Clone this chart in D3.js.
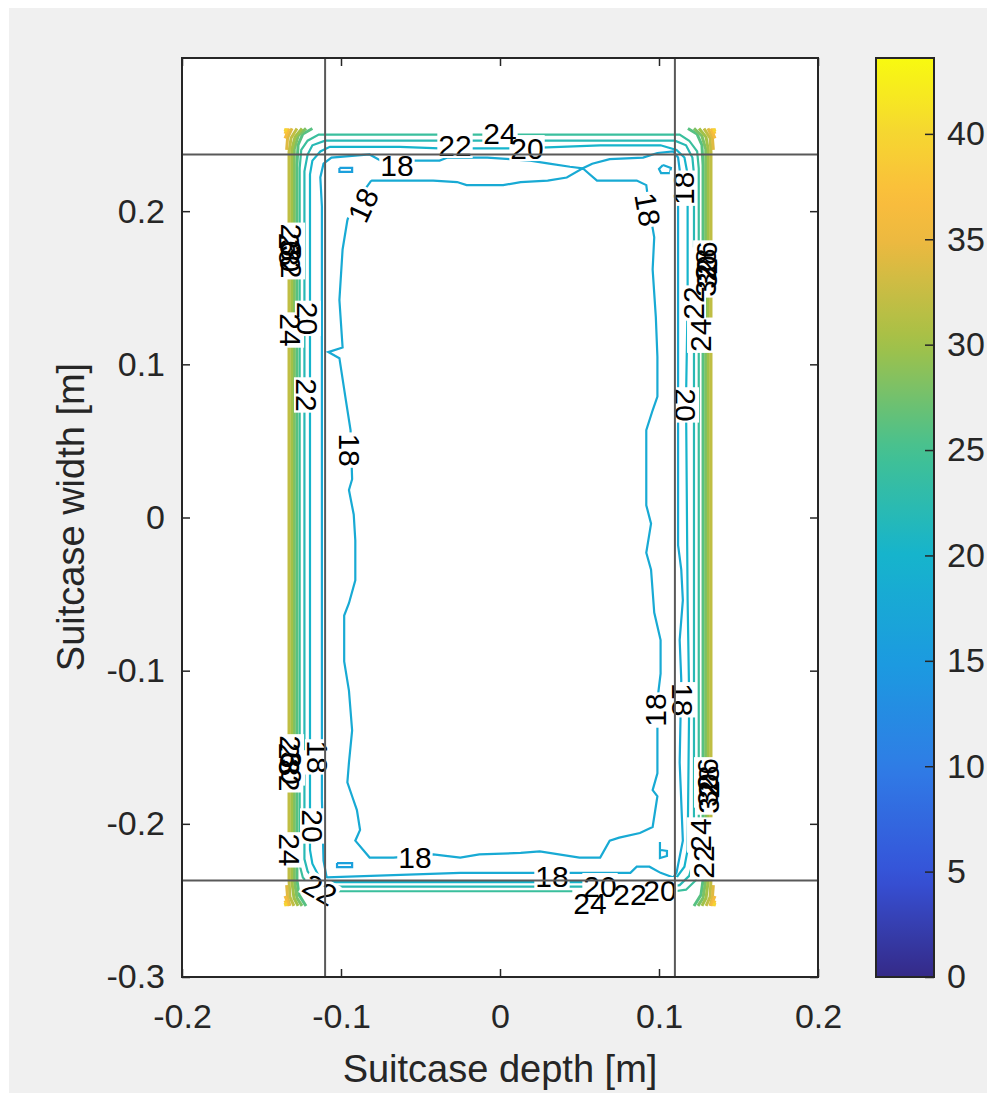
<!DOCTYPE html>
<html lang="en">
<head>
<meta charset="UTF-8">
<title>Suitcase contour</title>
<style>
  body { margin: 0; background: #fff; }
  text { font-family: "Liberation Sans", Arial, sans-serif; }
  .axis text { fill: #262626; font-size: 34px; }
  .axis line { stroke: #262626; stroke-width: 1.5px; }
  .axis path { display: none; }
  .clabel { fill: #000; font-size: 30px; }
</style>
<script src="https://d3js.org/d3.v7.min.js"></script>
</head>
<body>
<div class="canvas"></div>
<script>
// ---- data (data units) ----
const xTicks = [-0.2, -0.1, 0, 0.1, 0.2];
const yTicks = [-0.3, -0.2, -0.1, 0, 0.1, 0.2];
const cTicks = [0, 5, 10, 15, 20, 25, 30, 35, 40];
const cMax = 43.6;
const refX = [-0.110, 0.110];
const refY = [-0.237, 0.237];

// small level-16 loops
const line16a = [[-0.101,0.2282],[-0.093,0.2282],[-0.093,0.2256],[-0.101,0.2256],[-0.101,0.2282]];
const line16b = [[-0.1025,-0.2256],[-0.093,-0.2256],[-0.093,-0.2282],[-0.1025,-0.2282],[-0.1025,-0.2256]];

// level 18
const line18outer = [[-0.112,0.203],[-0.113,0.222],[-0.111,0.231],[-0.106,0.235],[-0.082,0.237],[-0.075,0.233],
  [-0.053,0.233],[-0.038,0.233],[-0.033,0.235],[-0.008,0.235],[0.019,0.233],[0.031,0.231],[0.044,0.229],
  [0.052,0.228],[0.058,0.231],[0.069,0.234],[0.090,0.235],[0.099,0.238],[0.109,0.239],[0.112,0.235],
  [0.113,0.227],[0.112,0.207],[0.112,0.142],[0.112,-0.018],[0.114,-0.034],[0.115,-0.054],[0.114,-0.067],
  [0.113,-0.080],[0.114,-0.106],[0.113,-0.160],[0.115,-0.211],[0.111,-0.232],[0.109,-0.235],[0.101,-0.232],
  [0.094,-0.228],[0.086,-0.228],[0.082,-0.232],[0.013,-0.232],[-0.025,-0.232],[-0.109,-0.235],[-0.111,-0.224],
  [-0.112,-0.184],[-0.112,0.108],[-0.112,0.203]];
const line18inner = [[-0.081,0.220],[-0.050,0.220],[-0.042,0.220],[-0.027,0.219],[-0.021,0.217],[0.002,0.217],
  [0.013,0.219],[0.030,0.220],[0.042,0.222],[0.052,0.228],[0.061,0.220],[0.086,0.220],[0.092,0.217],
  [0.094,0.201],[0.097,0.183],[0.096,0.162],[0.098,0.131],[0.099,0.105],[0.099,0.079],[0.096,0.070],
  [0.092,0.057],[0.092,0.008],[0.095,-0.004],[0.092,-0.023],[0.095,-0.034],[0.097,-0.062],[0.101,-0.080],
  [0.101,-0.102],[0.099,-0.119],[0.099,-0.167],[0.096,-0.178],[0.099,-0.182],[0.096,-0.202],[0.088,-0.206],
  [0.075,-0.209],[0.069,-0.211],[0.063,-0.222],[0.050,-0.222],[0.025,-0.218],[0.013,-0.219],[-0.013,-0.220],
  [-0.025,-0.222],[-0.042,-0.220],[-0.067,-0.222],[-0.082,-0.222],[-0.091,-0.211],[-0.088,-0.204],
  [-0.090,-0.191],[-0.093,-0.182],[-0.096,-0.173],[-0.095,-0.160],[-0.093,-0.139],[-0.095,-0.113],
  [-0.098,-0.094],[-0.098,-0.064],[-0.095,-0.056],[-0.091,-0.041],[-0.091,-0.015],[-0.092,0.002],
  [-0.095,0.018],[-0.093,0.025],[-0.094,0.057],[-0.097,0.077],[-0.101,0.104],[-0.108,0.108],[-0.099,0.111],
  [-0.101,0.142],[-0.099,0.175],[-0.096,0.194],[-0.094,0.201],[-0.081,0.220]];
const line18loopA = [[0.1025,0.2301],[0.100,0.2275],[0.1013,0.2249],[0.1069,0.2249],[0.1075,0.2282],[0.1025,0.2301]];
const line18loopB = [[0.1006,-0.2119],[0.1006,-0.2223],[0.105,-0.221],[0.105,-0.2177],[0.1013,-0.2171]];

// levels 20-24 (closed rings)
const line20 = [[-0.1195,0.175],[-0.1195,0.224],[-0.118,0.233],[-0.113,0.239],[-0.107,0.242],[-0.063,0.242],
  [-0.038,0.241],[0.013,0.241],[0.063,0.243],[0.101,0.243],[0.111,0.240],[0.116,0.235],[0.118,0.224],
  [0.118,0.142],[0.117,0.077],[0.118,-0.054],[0.119,-0.119],[0.118,-0.217],[0.116,-0.228],[0.111,-0.235],
  [0.101,-0.238],[0.000,-0.238],[-0.107,-0.238],[-0.114,-0.234],[-0.118,-0.226],[-0.1195,-0.217],[-0.1195,0.175]];
const line22 = [[-0.123,0.175],[-0.123,0.226],[-0.121,0.237],[-0.118,0.243],[-0.110,0.246],[-0.031,0.246],
  [0.038,0.246],[0.110,0.246],[0.117,0.243],[0.121,0.235],[0.122,0.224],[0.122,-0.223],[0.119,-0.234],
  [0.113,-0.240],[0.107,-0.241],[-0.107,-0.241],[-0.116,-0.238],[-0.121,-0.231],[-0.123,-0.223],[-0.123,0.175]];
const line24 = [[-0.126,0.175],[-0.126,0.228],[-0.125,0.240],[-0.121,0.246],[-0.114,0.250],[0.113,0.250],
  [0.119,0.246],[0.124,0.239],[0.125,0.228],[0.125,-0.227],[0.123,-0.237],[0.117,-0.243],[0.110,-0.244],
  [-0.110,-0.244],[-0.118,-0.242],[-0.124,-0.235],[-0.126,-0.227],[-0.126,0.175]];

// levels 26-32 along the side walls
const left26 = [[-0.118,0.254],[-0.124,0.2504],[-0.127,0.2432],[-0.1277,0.2301],[-0.1277,-0.2367],[-0.1264,-0.2464],[-0.122,-0.2536]];
const left28 = [[-0.122,0.254],[-0.127,0.2491],[-0.1294,0.2406],[-0.1294,-0.2367],[-0.1277,-0.2484],[-0.1245,-0.2536]];
const left30 = [[-0.1245,0.254],[-0.1289,0.2484],[-0.1310,0.2399],[-0.1310,-0.2367],[-0.1296,-0.2484],[-0.127,-0.2536]];
const left32 = [[-0.1277,0.254],[-0.1314,0.2478],[-0.1327,0.2386],[-0.1327,-0.2367],[-0.1321,-0.2478],[-0.1296,-0.2536]];
const right26 = [[0.1182,0.254],[0.1239,0.2504],[0.127,0.2432],[0.1277,0.2301],[0.1277,-0.2367],[0.1264,-0.2464],[0.122,-0.2536]];
const right28 = [[0.122,0.254],[0.127,0.2491],[0.1294,0.2406],[0.1294,-0.2367],[0.1277,-0.2484],[0.1245,-0.2536]];
const right30 = [[0.1252,0.254],[0.1296,0.2484],[0.1310,0.2399],[0.1310,-0.2367],[0.1296,-0.2484],[0.127,-0.2536]];
const right32 = [[0.1283,0.254],[0.1321,0.2478],[0.1327,0.2386],[0.1327,-0.2367],[0.1321,-0.2478],[0.1296,-0.2536]];

// hot corners (34-40)
const corner34 = [[[-0.1308,0.254],[-0.1336,0.2478],[-0.1342,0.240]],[[0.1308,0.254],[0.1336,0.2478],[0.1342,0.240]],
  [[-0.1321,-0.2536],[-0.1336,-0.2478],[-0.1342,-0.240]],[[0.1321,-0.2536],[0.1336,-0.2478],[0.1342,-0.240]]];
const corner36 = [[[-0.1327,0.254],[-0.1352,0.2475]],[[0.1327,0.254],[0.1352,0.2475]],
  [[-0.1327,-0.2536],[-0.1352,-0.2471]],[[0.1327,-0.2536],[0.1352,-0.2471]]];
const corner38 = [[[-0.1339,0.254],[-0.1352,0.2505]],[[0.1339,0.254],[0.1352,0.2505]],
  [[-0.1339,-0.2536],[-0.1352,-0.2501]],[[0.1339,-0.2536],[0.1352,-0.2501]]];
const corner40 = [[[-0.1346,0.254],[-0.1352,0.252]],[[0.1346,0.254],[0.1352,0.252]],
  [[-0.1346,-0.2536],[-0.1352,-0.2516]],[[0.1346,-0.2536],[0.1352,-0.2516]]];

// contour labels: level, x, y, angle
const contourLabels = [
  [18,-0.0648,0.2301,0],[22,-0.0283,0.2432,0],[24,0.0000,0.2510,0],[20,0.0170,0.2412,0],
  [18,-0.0862,0.2040,-65],[18,0.0930,0.2010,80],[18,0.1150,0.2150,-90],
  [26,-0.1308,0.1810,90],[28,-0.1321,0.1750,90],[30,-0.1314,0.1710,90],[32,-0.1308,0.1670,90],
  [20,-0.1208,0.1300,90],[24,-0.1314,0.1224,90],[22,-0.1214,0.0800,90],[18,-0.0943,0.0440,90],
  [26,-0.1314,-0.1530,90],[28,-0.1321,-0.1580,90],[30,-0.1308,-0.1635,90],[32,-0.1321,-0.1680,90],
  [18,-0.1145,-0.1563,90],[20,-0.1176,-0.2014,90],[24,-0.1321,-0.2170,90],[22,-0.1132,-0.2430,30],
  [18,-0.0535,-0.2216,0],[18,0.0327,-0.2340,0],[20,0.0629,-0.2406,0],[24,0.0566,-0.2517,0],
  [22,0.0818,-0.2458,0],[20,0.1006,-0.2432,0],
  [26,0.1296,0.1694,-90],[28,0.1289,0.1648,-90],[30,0.1296,0.1603,-90],[32,0.1289,0.1551,-90],
  [22,0.1214,0.1400,-90],[24,0.1258,0.1190,-90],[20,0.1170,0.0735,90],
  [18,0.1150,-0.1190,90],[18,0.0975,-0.1257,-90],
  [26,0.1302,-0.1680,-90],[28,0.1308,-0.1727,-90],[30,0.1302,-0.1779,-90],[32,0.1308,-0.1825,-90],
  [24,0.1258,-0.2073,-90],[22,0.1277,-0.2249,-90]
];

// ---- colormap (parula-like) ----
const cmapPos = [0, 0.11, 0.23, 0.34, 0.46, 0.57, 0.69, 0.80, 0.85, 0.92, 1.0];
const cmapCol = ['#352a87','#3652d8','#2f7de6','#1c9ae0','#16b4cc','#42c193','#a3c147','#ecb940','#fbbd3c','#f5d730','#f8fa10'];
const color = d3.scaleLinear().domain(cmapPos.map(p => p * cMax)).range(cmapCol).interpolate(d3.interpolateRgb);

const contours = [
  [16, line16a], [16, line16b],
  [18, line18outer], [18, line18inner], [18, line18loopA], [18, line18loopB],
  [20, line20], [22, line22], [24, line24],
  [26, left26], [28, left28], [30, left30], [32, left32],
  [26, right26], [28, right28], [30, right30], [32, right32]
];
corner34.forEach(s => contours.push([34, s]));
corner36.forEach(s => contours.push([36, s]));
corner38.forEach(s => contours.push([38, s]));
corner40.forEach(s => contours.push([40, s]));

// ---- drawing ----
const W = 987, H = 1093;
const svg = d3.select('.canvas').append('svg').attr('width', W).attr('height', H);
svg.append('rect').attr('width', W).attr('height', H).attr('fill', '#fff');
svg.append('rect').attr('x', 9).attr('y', 8).attr('width', W - 9).attr('height', H - 8).attr('fill', '#f0f0f0');

const x = d3.scaleLinear().domain([-0.2, 0.2]).range([182, 818]);
const y = d3.scaleLinear().domain([-0.3, 0.3]).range([977, 58]);

svg.append('rect').attr('x', 182).attr('y', 58).attr('width', 636).attr('height', 919).attr('fill', '#fff');

const line = d3.line().x(d => x(d[0])).y(d => y(d[1]));
const gC = svg.append('g');
gC.selectAll('path')
  .data(contours)
  .enter()
  .append('path')
  .attr('d', d => line(d[1]))
  .attr('fill', 'none')
  .attr('stroke', d => color(d[0]))
  .attr('stroke-width', d => d[0] >= 26 ? 3 : 2.2)
  .attr('stroke-linejoin', 'miter');

// labels with white gaps
const gBox = svg.append('g');
const gTxt = svg.append('g');
contourLabels.forEach(([lev, lx, ly, ang]) => {
  const tr = `translate(${x(lx)},${y(ly)}) rotate(${ang})`;
  const t = gTxt.append('text')
    .attr('class', 'clabel')
    .attr('transform', tr)
    .attr('text-anchor', 'middle')
    .attr('dy', '0.36em')
    .text(lev);
  const w = t.node().getComputedTextLength();
  gBox.append('rect')
    .attr('transform', tr)
    .attr('x', -w / 2 - 1).attr('y', -13)
    .attr('width', w + 2).attr('height', 26)
    .attr('fill', '#fff');
});

// reference lines
svg.append('g').selectAll('line').data(refX).enter().append('line')
  .attr('x1', d => x(d)).attr('x2', d => x(d)).attr('y1', 58).attr('y2', 977)
  .attr('stroke', '#595959').attr('stroke-width', 2);
svg.append('g').selectAll('line').data(refY).enter().append('line')
  .attr('y1', d => y(d)).attr('y2', d => y(d)).attr('x1', 182).attr('x2', 818)
  .attr('stroke', '#595959').attr('stroke-width', 2);

// axes
const fmt = d => d === 0 ? '0' : d3.format('.1f')(d).replace('−', '-');
svg.append('g').attr('class', 'axis').attr('transform', 'translate(182,0)')
  .call(d3.axisLeft(y).tickValues(yTicks).tickFormat(fmt).tickSizeInner(-8).tickSizeOuter(0).tickPadding(17));
svg.append('g').attr('class', 'axis').attr('transform', 'translate(818,0)')
  .call(d3.axisRight(y).tickValues(yTicks).tickFormat('').tickSizeInner(-8).tickSizeOuter(0));
svg.append('g').attr('class', 'axis').attr('transform', 'translate(0,977)')
  .call(d3.axisBottom(x).tickValues(xTicks).tickFormat(fmt).tickSizeInner(-8).tickSizeOuter(0).tickPadding(27));
svg.append('g').attr('class', 'axis').attr('transform', 'translate(0,58)')
  .call(d3.axisTop(x).tickValues(xTicks).tickFormat('').tickSizeInner(-8).tickSizeOuter(0));
svg.append('rect').attr('x', 182).attr('y', 58).attr('width', 636).attr('height', 919)
  .attr('fill', 'none').attr('stroke', '#262626').attr('stroke-width', 2);

svg.append('text').attr('x', 500).attr('y', 1082).attr('text-anchor', 'middle')
  .attr('font-size', 38).attr('fill', '#262626').text('Suitcase depth [m]');
svg.append('text').attr('transform', 'translate(84,517) rotate(-90)').attr('text-anchor', 'middle')
  .attr('font-size', 38).attr('fill', '#262626').text('Suitcase width [m]');

// colorbar
const cb = d3.scaleLinear().domain([0, cMax]).range([977, 58]);
const grad = svg.append('defs').append('linearGradient').attr('id', 'cbar')
  .attr('x1', 0).attr('y1', 1).attr('x2', 0).attr('y2', 0);
grad.selectAll('stop').data(d3.range(0, 1.0001, 0.02)).enter().append('stop')
  .attr('offset', d => d).attr('stop-color', d => color(d * cMax));
svg.append('rect').attr('x', 876).attr('y', 58).attr('width', 58).attr('height', 919)
  .attr('fill', 'url(#cbar)').attr('stroke', '#262626').attr('stroke-width', 2);
svg.append('g').attr('class', 'axis').attr('transform', 'translate(934,0)')
  .call(d3.axisRight(cb).tickValues(cTicks).tickSizeInner(-9).tickSizeOuter(0).tickPadding(13));
</script>
</body>
</html>
